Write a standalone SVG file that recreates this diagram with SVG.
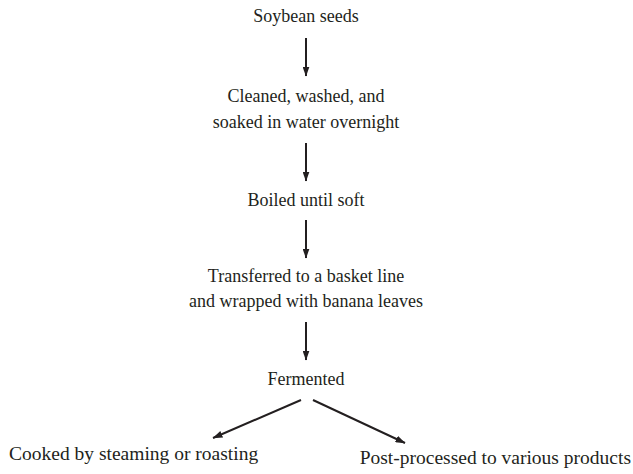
<svg xmlns="http://www.w3.org/2000/svg" width="633" height="474" viewBox="0 0 633 474">
<defs>
<style>
text{font-family:"Liberation Serif","Times New Roman",serif;font-size:18px;fill:#231f20;text-anchor:middle}
text.b{font-size:19.5px}
.c line{stroke:#231f20;stroke-width:2}
</style>
<marker id="ah" viewBox="0 0 10 7" refX="9.5" refY="3.5" markerWidth="5" markerHeight="3.5" orient="auto" markerUnits="strokeWidth">
<path d="M0,0 L10,3.5 L0,7 z" fill="#231f20"/>
</marker>
</defs>
<rect width="633" height="474" fill="#fff"/>
<g id="n1"><text x="306" y="22">Soybean seeds</text></g>
<g id="n2"><text x="306" y="102">Cleaned, washed, and</text><text x="306" y="128">soaked in water overnight</text></g>
<g id="n3"><text x="306" y="206">Boiled until soft</text></g>
<g id="n4"><text x="306" y="282">Transferred to a basket line</text><text x="306" y="307">and wrapped with banana leaves</text></g>
<g id="n5"><text x="306" y="385">Fermented</text></g>
<g id="n6"><text class="b" x="9" y="460" style="text-anchor:start">Cooked by steaming or roasting</text></g>
<g id="n7"><text class="b" x="631" y="464" style="text-anchor:end">Post-processed to various products</text></g>
<g class="c" id="connectors">
<line x1="306" y1="38" x2="306" y2="76" marker-end="url(#ah)"/>
<line x1="306" y1="143" x2="306" y2="181" marker-end="url(#ah)"/>
<line x1="306" y1="220" x2="306" y2="258" marker-end="url(#ah)"/>
<line x1="306" y1="322" x2="306" y2="360" marker-end="url(#ah)"/>
<line x1="301" y1="400" x2="213" y2="438" marker-end="url(#ah)"/>
<line x1="313" y1="400" x2="405" y2="443" marker-end="url(#ah)"/>
</g>
</svg>
